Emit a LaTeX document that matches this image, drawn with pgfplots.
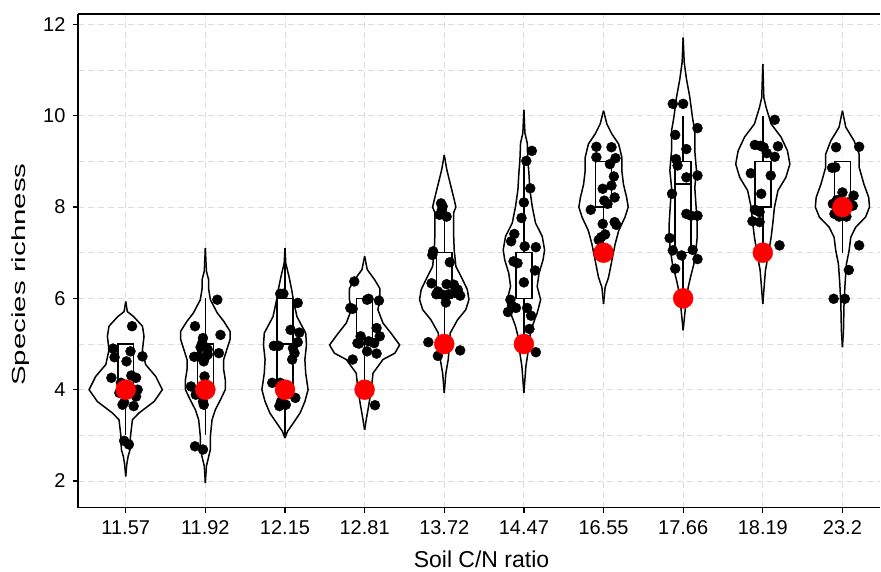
\documentclass[border=0pt]{standalone}
\usepackage{pgfplots}
\pgfplotsset{compat=1.18}
\usepackage{pgfplotstable}
\usepgfplotslibrary{statistics}
\usepackage{fontspec}
\setmainfont{Liberation Sans}
\newfontfamily\ylabfont{Liberation Sans}[FakeStretch=1.55]

% violin outlines: y, half-width
\pgfplotstableread{
y w
2.10 0
2.36 0.013
2.54 0.03
2.69 0.055
2.98 0.06
3.34 0.084
3.49 0.167
3.74 0.356
4.00 0.46
4.29 0.377
4.55 0.25
4.87 0.21
5.17 0.23
5.39 0.21
5.60 0.10
5.71 0.02
5.93 0
}\vA
\pgfplotstableread{
y w
1.96 0
2.32 0.013
2.47 0.033
2.69 0.063
2.98 0.063
3.34 0.084
3.56 0.125
3.78 0.19
4.00 0.25
4.22 0.25
4.44 0.23
4.66 0.23
4.88 0.27
5.10 0.31
5.28 0.31
5.50 0.23
5.68 0.15
5.97 0.063
6.20 0.042
6.40 0.042
6.60 0.013
7.10 0
}\vB
\pgfplotstableread{
y w
2.94 0
3.09 0.033
3.27 0.105
3.49 0.19
3.74 0.25
4.00 0.29
4.36 0.26
4.66 0.25
4.98 0.27
5.24 0.26
5.60 0.15
5.97 0.105
6.19 0.084
6.48 0.05
6.77 0.01
7.10 0
}\vC
\pgfplotstableread{
y w
3.12 0
3.34 0.02
3.64 0.05
4.00 0.084
4.36 0.105
4.66 0.23
4.80 0.38
4.98 0.44
5.24 0.33
5.46 0.23
5.75 0.167
5.97 0.19
6.22 0.19
6.41 0.125
6.63 0.033
6.92 0
}\vD
\pgfplotstableread{
y w
3.93 0
4.36 0.02
4.66 0.05
4.95 0.063
5.24 0.075
5.53 0.167
5.75 0.27
5.97 0.31
6.19 0.29
6.41 0.23
6.70 0.146
7.06 0.125
7.43 0.117
7.87 0.117
8.00 0.146
8.16 0.125
8.45 0.084
8.81 0.033
9.14 0
}\vE
\pgfplotstableread{
y w
3.93 0
4.51 0.025
4.80 0.05
5.09 0.063
5.39 0.105
5.68 0.167
5.97 0.21
6.26 0.167
6.55 0.19
6.84 0.24
7.06 0.26
7.36 0.23
7.65 0.146
8.01 0.105
8.38 0.075
8.74 0.063
9.03 0.05
9.40 0.042
9.62 0.013
10.13 0
}\vF
\pgfplotstableread{
y w
5.88 0
6.24 0.02
6.46 0.063
6.83 0.105
7.19 0.146
7.48 0.19
7.78 0.27
8.00 0.31
8.21 0.29
8.50 0.25
8.80 0.23
9.09 0.23
9.38 0.19
9.60 0.105
9.82 0.042
10.11 0
}\vG
\pgfplotstableread{
y w
5.30 0
5.88 0.033
6.24 0.063
6.46 0.092
6.75 0.134
7.05 0.16
7.34 0.176
7.63 0.176
8.07 0.16
8.43 0.146
8.80 0.167
9.23 0.146
9.67 0.146
9.96 0.117
10.40 0.084
10.80 0.042
11.17 0.013
11.71 0
}\vH
\pgfplotstableread{
y w
5.88 0
6.32 0.02
6.61 0.033
6.90 0.063
7.34 0.105
7.63 0.125
7.99 0.146
8.36 0.19
8.65 0.29
8.94 0.34
9.23 0.31
9.53 0.23
9.82 0.105
10.18 0.042
10.40 0.013
11.13 0
}\vI
\pgfplotstableread{
y w
4.93 0
5.30 0.013
5.88 0.02
6.32 0.033
6.75 0.05
7.05 0.084
7.34 0.105
7.56 0.167
7.78 0.29
8.00 0.34
8.21 0.33
8.50 0.27
8.87 0.21
9.16 0.21
9.45 0.146
9.75 0.042
10.11 0
}\vJ

% jittered observations
\pgfplotstableread{
x y
0.08 5.39
-0.16 4.90
0.06 4.84
-0.14 4.71
0.21 4.73
0.01 4.62
-0.18 4.26
0.07 4.31
0.13 4.26
-0.08 3.93
0.15 4.00
0.13 3.85
-0.04 3.67
-0.02 3.72
0.10 3.64
-0.02 2.88
0.04 2.80
0.02 4.07
-0.06 4.15
1.15 5.97
0.87 5.39
1.19 5.20
0.97 5.13
0.96 5.02
0.94 4.93
1.03 4.88
1.17 4.80
0.86 4.72
0.92 4.73
1.00 4.72
1.03 4.77
0.98 4.62
0.99 4.29
0.82 4.07
0.88 3.89
0.97 3.74
0.98 3.67
0.87 2.76
0.97 2.69
1.94 6.10
1.98 6.10
2.16 5.90
2.07 5.31
2.18 5.25
2.16 5.04
1.86 4.96
1.92 4.96
2.10 4.91
2.12 4.80
2.09 4.66
1.84 4.15
1.94 4.15
2.13 3.82
1.95 3.74
2.01 3.67
1.93 3.64
2.87 6.37
3.05 5.99
3.03 5.97
3.18 5.95
2.82 5.79
2.85 5.77
3.15 5.35
3.19 5.17
2.95 5.17
2.91 5.02
3.05 5.06
3.12 5.02
2.93 5.01
3.15 4.79
3.03 4.84
2.85 4.66
3.13 3.66
3.96 8.08
3.98 8.01
3.97 7.94
3.94 7.83
4.03 7.79
3.86 7.03
3.85 6.95
4.07 6.79
3.84 6.33
4.03 6.31
4.12 6.30
3.92 6.15
3.98 6.08
4.06 6.09
4.17 6.19
4.13 6.12
4.20 6.06
3.90 6.09
4.02 5.91
3.80 5.04
4.20 4.86
3.92 4.74
5.10 9.23
5.03 9.01
5.08 8.41
5.00 8.10
4.97 7.76
4.88 7.41
4.84 7.25
5.01 7.14
5.15 7.12
4.87 6.81
4.92 6.77
5.14 6.61
5.00 6.35
4.83 5.97
4.85 5.84
4.90 5.79
4.80 5.70
5.04 5.79
5.09 5.62
5.07 5.33
5.15 4.82
5.91 9.32
6.10 9.31
5.91 9.09
6.15 9.07
6.08 8.94
6.13 8.67
6.10 8.47
5.99 8.40
6.14 8.21
6.01 8.14
6.05 8.07
5.84 7.94
5.99 7.63
6.14 7.67
6.16 7.61
6.02 7.40
5.94 7.28
5.97 7.34
6.87 10.26
7.00 10.26
7.18 9.73
6.90 9.58
7.04 9.27
6.91 9.05
6.93 8.91
7.04 8.65
7.18 8.69
6.86 8.29
7.04 7.85
7.10 7.81
7.18 7.81
6.83 7.32
6.87 7.05
7.12 7.06
6.98 6.94
7.18 6.86
6.90 6.65
8.15 9.91
7.90 9.36
7.97 9.34
8.01 9.31
8.19 9.33
8.05 9.18
8.15 9.10
8.10 8.69
7.85 8.74
7.98 8.29
7.90 7.94
7.96 7.89
7.87 7.69
7.96 7.67
8.21 7.16
8.92 9.31
9.21 9.32
8.91 8.87
8.87 8.86
9.00 8.32
9.14 8.25
8.88 8.07
9.13 8.03
8.90 7.85
8.96 7.79
9.05 7.79
9.21 7.16
9.08 6.62
8.89 5.99
9.03 5.99
9.07 8.10
8.93 8.15
}\pts

\pgfplotstableread{
x y
0 4
1 4
2 4
3 4
4 5
5 5
6 7
7 6
8 7
9 8
}\redpts

\newcommand{\violin}[2]{%
  \addplot[fill=white, draw=none] table[x expr=#1+\thisrow{w}, y=y]{#2} -- cycle;
  \addplot[fill=white, draw=none] table[x expr=#1-\thisrow{w}, y=y]{#2} -- cycle;
  \addplot[black, line width=1.5bp, line join=round] table[x expr=#1+\thisrow{w}, y=y]{#2};
  \addplot[black, line width=1.5bp, line join=round] table[x expr=#1-\thisrow{w}, y=y]{#2};
}
\newcommand{\bx}[6]{%
  \addplot[draw=black, fill=white, line width=1.5bp,
    boxplot/draw direction=y, boxplot/box extend=0.2, boxplot/whisker extend=0,
    boxplot prepared={draw position=#1, lower whisker=#2, lower quartile=#3,
      median=#4, upper quartile=#5, upper whisker=#6}] coordinates {};
}

\definecolor{gridgray}{HTML}{DCDCDC}

\begin{document}
\begin{tikzpicture}
\begin{axis}[
  scale only axis, width=803bp, height=494bp,
  xmin=-0.6, xmax=9.475, ymin=1.418, ymax=12.228,
  axis x line*=box, axis y line*=left,
  axis line style={-, black, line width=1.5bp},
  xtick={0,1,2,3,4,5,6,7,8,9},
  xticklabels={11.57,11.92,12.15,12.81,13.72,14.47,16.55,17.66,18.19,23.2},
  ytick={2,4,6,8,10,12}, minor ytick={3,5,7,9,11},
  tick pos=left, tick align=outside,
  major tick length=5bp, minor tick length=0pt,
  tick style={black, line width=1.3bp},
  xmajorgrids, ymajorgrids, yminorgrids,
  major grid style={gridgray, line width=0.9bp, dash pattern=on 6bp off 4bp},
  minor grid style={gridgray, line width=0.9bp, dash pattern=on 6bp off 4bp},
  /pgf/number format/assume math mode=true,
  tick label style={font=\fontsize{20bp}{24bp}\selectfont, text=black},
  xticklabel style={anchor=base, yshift=-22bp},
  yticklabel style={anchor=east, xshift=-4bp},
  xlabel={Soil C/N ratio},
  ylabel={Species richness},
  xlabel style={at={([yshift=-60bp]rel axis cs:0.503,0)}, anchor=base,
    font=\fontsize{23bp}{26bp}\selectfont},
  ylabel style={at={([xshift=-57bp]rel axis cs:0,0.472)}, anchor=center,
    font=\ylabfont\fontsize{19bp}{22bp}\selectfont},
]
\violin{0}{\vA}
\violin{1}{\vB}
\violin{2}{\vC}
\violin{3}{\vD}
\violin{4}{\vE}
\violin{5}{\vF}
\violin{6}{\vG}
\violin{7}{\vH}
\violin{8}{\vI}
\violin{9}{\vJ}
\bx{0}{3}{4}{4}{5}{5}
\bx{1}{3}{4}{4}{5}{6}
\bx{2}{3}{4}{5}{6}{7}
\bx{3}{4}{5}{5}{6}{6}
\bx{4}{5}{6}{6}{7}{8}
\bx{5}{5}{6}{7}{7}{9}
\bx{6}{7}{8}{8}{9}{9}
\bx{7}{6}{7}{8.5}{9}{10}
\bx{8}{7}{8}{9}{9}{10}
\bx{9}{7}{8}{8}{9}{9}
\addplot[only marks, mark=*, mark size=5bp, black, mark options={draw=black, fill=black}] table[x=x, y=y]{\pts};
\addplot[only marks, mark=*, mark size=10bp, red, mark options={draw=red, fill=red}] table[x=x, y=y]{\redpts};
\end{axis}
\path (-78bp,-64bp) rectangle (803bp,508bp);
\end{tikzpicture}
\end{document}
